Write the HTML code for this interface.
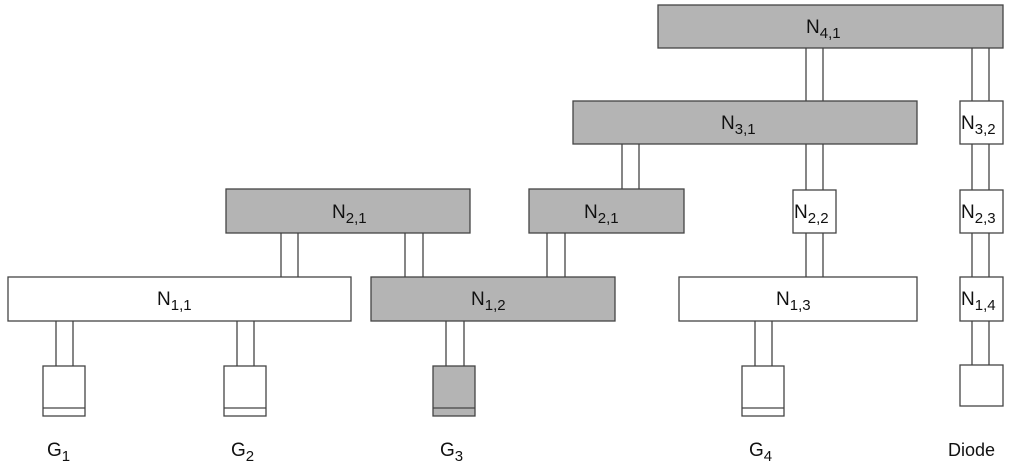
<!DOCTYPE html>
<html><head><style>
html,body{margin:0;padding:0;background:#fff}
svg{display:block}
text{font-family:"Liberation Sans",sans-serif;fill:#111}
</style></head><body>
<svg width="1013" height="472" viewBox="0 0 1013 472">
<g stroke="#444" stroke-width="1.3">
<line x1="806" y1="48" x2="806" y2="101"/><line x1="823" y1="48" x2="823" y2="101"/>
<line x1="972" y1="48" x2="972" y2="365"/><line x1="989" y1="48" x2="989" y2="365"/>
<line x1="622" y1="144" x2="622" y2="189"/><line x1="639" y1="144" x2="639" y2="189"/>
<line x1="806" y1="144" x2="806" y2="277"/><line x1="823" y1="144" x2="823" y2="277"/>
<line x1="281" y1="233" x2="281" y2="277"/><line x1="298" y1="233" x2="298" y2="277"/>
<line x1="405" y1="233" x2="405" y2="277"/><line x1="423" y1="233" x2="423" y2="277"/>
<line x1="547" y1="233" x2="547" y2="277"/><line x1="565" y1="233" x2="565" y2="277"/>
<line x1="56" y1="321" x2="56" y2="366"/><line x1="73" y1="321" x2="73" y2="366"/>
<line x1="237" y1="321" x2="237" y2="366"/><line x1="254" y1="321" x2="254" y2="366"/>
<line x1="446" y1="321" x2="446" y2="366"/><line x1="464" y1="321" x2="464" y2="366"/>
<line x1="755" y1="321" x2="755" y2="366"/><line x1="772" y1="321" x2="772" y2="366"/>
<rect x="658" y="5" width="345" height="43" fill="#b4b4b4"/>
<rect x="573" y="101" width="344" height="43" fill="#b4b4b4"/>
<rect x="960" y="101" width="43" height="43" fill="#fff"/>
<rect x="226" y="189" width="244" height="44" fill="#b4b4b4"/>
<rect x="529" y="189" width="155" height="44" fill="#b4b4b4"/>
<rect x="793" y="190" width="43" height="43" fill="#fff"/>
<rect x="960" y="190" width="43" height="43" fill="#fff"/>
<rect x="8" y="277" width="343" height="44" fill="#fff"/>
<rect x="371" y="277" width="244" height="44" fill="#b4b4b4"/>
<rect x="679" y="277" width="238" height="44" fill="#fff"/>
<rect x="960" y="277" width="43" height="44" fill="#fff"/>
<rect x="960" y="365" width="43" height="41" fill="#fff"/>
<rect x="43" y="366" width="42" height="50" fill="#fff"/><line x1="43" y1="408" x2="85" y2="408"/>
<rect x="224" y="366" width="42" height="50" fill="#fff"/><line x1="224" y1="408" x2="266" y2="408"/>
<rect x="433" y="366" width="42" height="50" fill="#b4b4b4"/><line x1="433" y1="408" x2="475" y2="408"/>
<rect x="742" y="366" width="42" height="50" fill="#fff"/><line x1="742" y1="408" x2="784" y2="408"/>
</g>
<g font-size="19">
<text x="806" y="33">N<tspan font-size="15" dy="5">4,1</tspan></text>
<text x="721" y="129">N<tspan font-size="15" dy="5">3,1</tspan></text>
<text x="961" y="129">N<tspan font-size="15" dy="5">3,2</tspan></text>
<text x="332" y="218">N<tspan font-size="15" dy="5">2,1</tspan></text>
<text x="584" y="218">N<tspan font-size="15" dy="5">2,1</tspan></text>
<text x="794" y="218">N<tspan font-size="15" dy="5">2,2</tspan></text>
<text x="961" y="218">N<tspan font-size="15" dy="5">2,3</tspan></text>
<text x="157" y="305">N<tspan font-size="15" dy="5">1,1</tspan></text>
<text x="471" y="305">N<tspan font-size="15" dy="5">1,2</tspan></text>
<text x="776" y="305">N<tspan font-size="15" dy="5">1,3</tspan></text>
<text x="961" y="305">N<tspan font-size="15" dy="5">1,4</tspan></text>
<text x="47" y="456">G<tspan font-size="15" dy="5">1</tspan></text>
<text x="231" y="456">G<tspan font-size="15" dy="5">2</tspan></text>
<text x="440" y="456">G<tspan font-size="15" dy="5">3</tspan></text>
<text x="749" y="456">G<tspan font-size="15" dy="5">4</tspan></text>
<text x="948" y="456" font-size="18">Diode</text>
</g>
</svg>
</body></html>
